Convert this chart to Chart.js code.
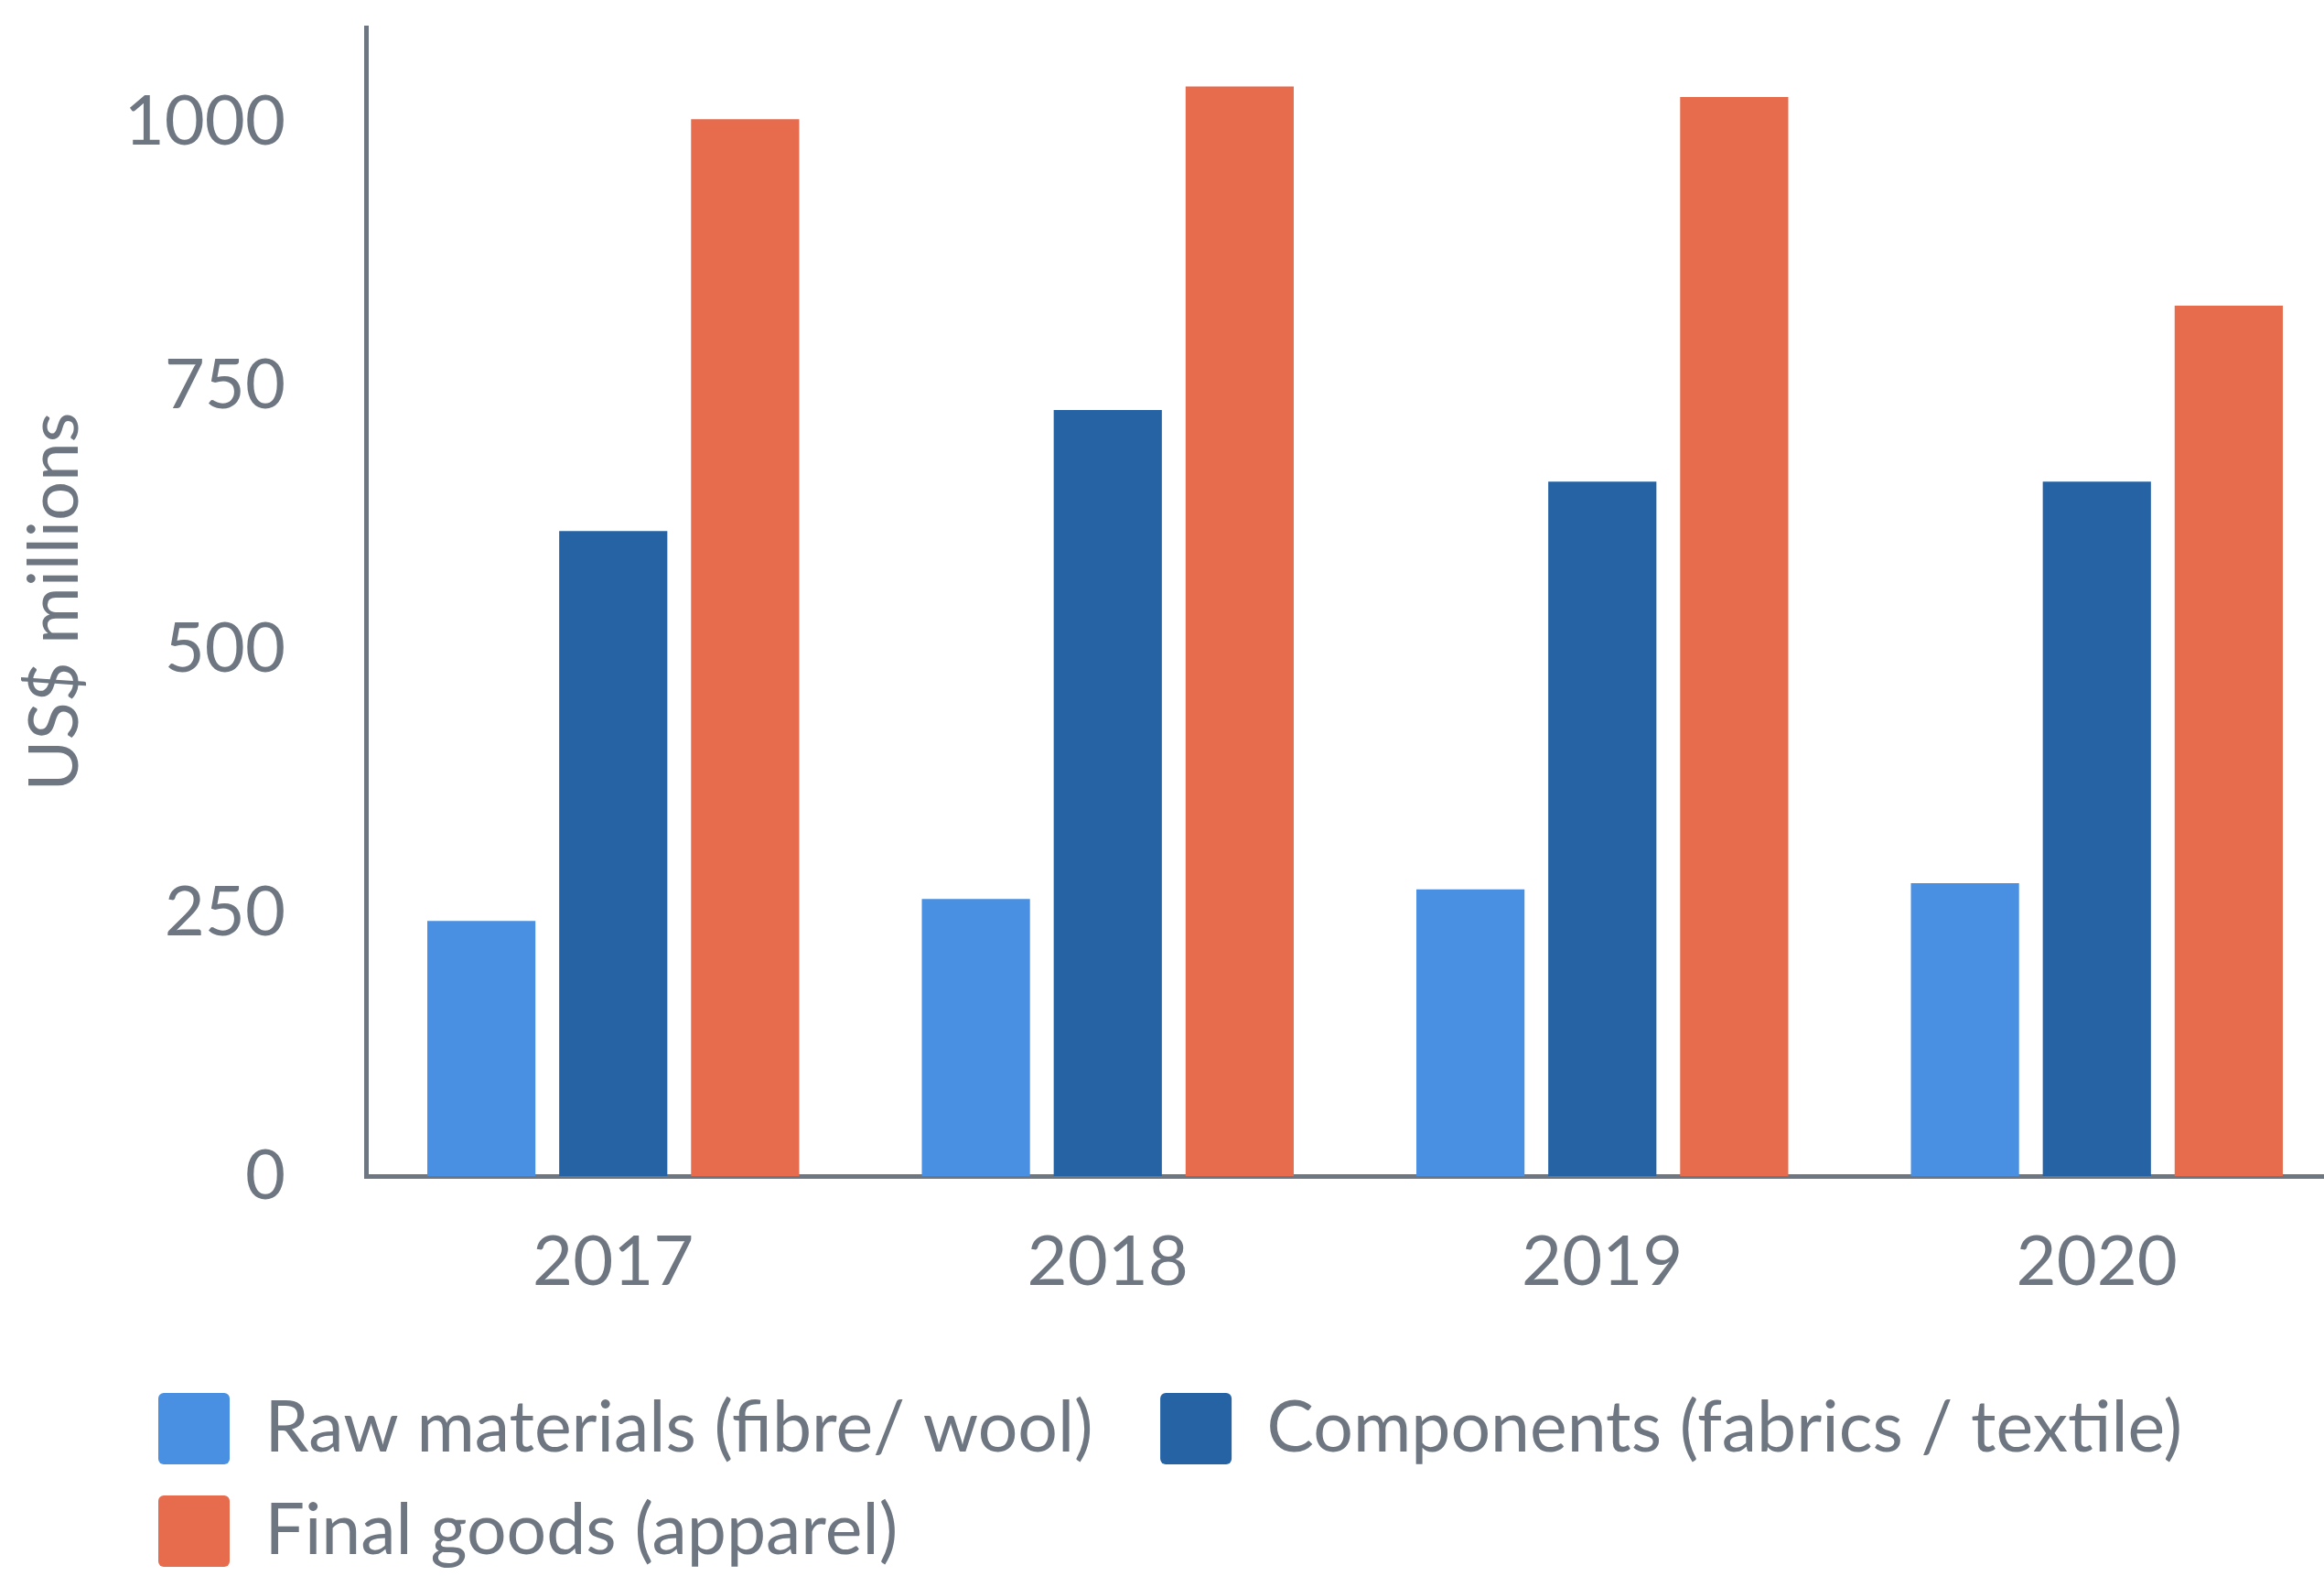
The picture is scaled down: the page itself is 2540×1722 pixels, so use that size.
<!DOCTYPE html>
<html>
<head>
<meta charset="utf-8">
<script src="https://cdn.jsdelivr.net/npm/chart.js@4"></script>
<style>
  html, body { margin: 0; padding: 0; background: #fff; overflow: hidden; }
  #wrap { width: 2562px; height: 1722px; }
</style>
</head>
<body>
<div id="wrap"><canvas id="chart" width="2562" height="1722"></canvas></div>
<script>
const categories = ['2017', '2018', '2019', '2020'];
const rawMaterials = [242, 263, 272, 278];
const components = [612, 727, 659, 659];
const finalGoods = [1003, 1034, 1024, 826];
const yTicks = [0, 250, 500, 750, 1000];

const seriesNames = ['Raw materials (fibre/ wool)', 'Components (fabrics / textile)', 'Final goods (apparel)'];
const seriesColors = ['#4a90e2', '#2563a5', '#e76b4d'];

const grey = '#6e7781';
Chart.defaults.font.family = 'Lato';
Chart.defaults.font.size = 76;
Chart.defaults.color = grey;

// legend rows start a bit in from the left edge, not at the padding
const legendShift = {
    id: 'legendShift',
    afterLayout(chart) {
        chart.legend.left = 139;
    }
};

new Chart(document.getElementById('chart'), {
    type: 'bar',
    data: {
        labels: categories,
        datasets: [
            { label: seriesNames[0], data: rawMaterials, backgroundColor: seriesColors[0] },
            { label: seriesNames[1], data: components, backgroundColor: seriesColors[1] },
            { label: seriesNames[2], data: finalGoods, backgroundColor: seriesColors[2] },
        ]
    },
    options: {
        responsive: false,
        animation: false,
        devicePixelRatio: 1,
        layout: {
            padding: { top: 30, left: 0, right: 0, bottom: 0 }
        },
        datasets: {
            bar: {
                categoryPercentage: 0.8,
                barPercentage: 0.82,
                borderWidth: 0,
            }
        },
        scales: {
            x: {
                grid: { display: false, drawTicks: false },
                border: { color: grey, width: 5 },
                ticks: { padding: 49 },
                afterFit: (scale) => {
                    scale.height = 203;
                    scale.paddingLeft = 0;
                    scale.paddingRight = 0;
                }
            },
            y: {
                min: 0,
                max: 1090,
                grid: { display: false, drawTicks: false },
                border: { color: grey, width: 5 },
                ticks: {
                    padding: 88,
                    callback: (v) => String(v)
                },
                afterBuildTicks: (scale) => {
                    scale.ticks = yTicks.map(v => ({ value: v }));
                },
                afterFit: (scale) => {
                    scale.width = 400;
                    scale.paddingTop = 0;
                    scale.paddingBottom = 0;
                },
                title: {
                    display: true,
                    text: 'US$ millions',
                    padding: { top: 15, bottom: 0 }
                }
            }
        },
        plugins: {
            legend: {
                position: 'bottom',
                align: 'start',
                labels: {
                    font: { size: 77 },
                    boxWidth: 78,
                    boxHeight: 78,
                    padding: 34,
                    useBorderRadius: true,
                    borderRadius: 6,
                    // trailing spaces widen the gap between legend items
                    generateLabels: (chart) => Chart.defaults.plugins.legend.labels.generateLabels(chart)
                        .map(item => ({ ...item, text: item.text + '  ' }))
                }
            },
            tooltip: { enabled: false }
        }
    },
    plugins: [legendShift]
});
</script>
</body>
</html>
